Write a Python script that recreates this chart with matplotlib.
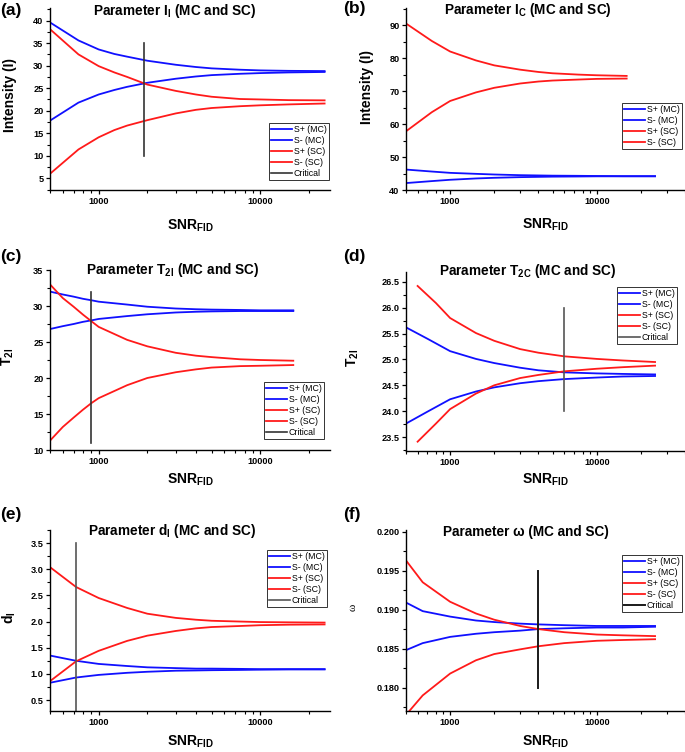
import matplotlib
matplotlib.use('Agg')
import matplotlib.pyplot as plt
from matplotlib.ticker import FixedLocator, LogLocator, NullFormatter, MultipleLocator, FormatStrFormatter

plt.rcParams['font.family'] = ['Liberation Sans', 'DejaVu Sans']
plt.rcParams['font.weight'] = 'bold'

# ---- datos ----
# (a) parametro I_I
snr_a = [500, 750, 1000, 1250, 1500, 2000, 3000, 4000, 5000, 7500, 10000, 15000, 25000]
a_mc_mas = [39.6, 35.6, 33.6, 32.6, 32.0, 31.1, 30.2, 29.7, 29.4, 29.1, 28.95, 28.85, 28.8]
a_mc_menos = [17.8, 21.8, 23.6, 24.6, 25.3, 26.2, 27.1, 27.6, 27.9, 28.2, 28.35, 28.5, 28.6]
a_sc_mas = [38.1, 32.5, 29.9, 28.5, 27.5, 25.8, 24.4, 23.6, 23.1, 22.6, 22.5, 22.35, 22.3]
a_sc_menos = [6.0, 11.4, 14.1, 15.7, 16.7, 17.9, 19.4, 20.2, 20.6, 21.0, 21.2, 21.4, 21.6]
a_critico = 1900
a_critico_y = [10, 35]

# (b) parametro I_C
snr_b_mc = [500, 750, 1000, 1500, 2000, 3000, 5000, 7500, 10000, 15000, 25000]
b_mc_mas = [46.2, 45.6, 45.2, 44.9, 44.7, 44.5, 44.35, 44.3, 44.25, 44.2, 44.2]
b_mc_menos = [42.1, 42.7, 43.1, 43.5, 43.7, 43.9, 44.05, 44.1, 44.15, 44.15, 44.15]
snr_b_sc = [500, 750, 1000, 1500, 2000, 3000, 4000, 5000, 7500, 10000, 16000]
b_sc_mas = [90.5, 85.2, 82.0, 79.3, 77.8, 76.5, 75.8, 75.4, 75.0, 74.8, 74.6]
b_sc_menos = [57.8, 63.6, 67.0, 69.6, 71.0, 72.3, 72.9, 73.2, 73.5, 73.7, 73.8]

# (c) parametro T2I
snr_c = [500, 600, 700, 800, 900, 1000, 1500, 2000, 3000, 4000, 5000, 7500, 10000, 16000]
c_mc_mas = [32.0, 31.6, 31.3, 31.0, 30.8, 30.6, 30.2, 29.9, 29.65, 29.55, 29.5, 29.45, 29.4, 29.4]
c_mc_menos = [26.8, 27.2, 27.5, 27.8, 28.0, 28.2, 28.6, 28.85, 29.1, 29.2, 29.25, 29.3, 29.3, 29.3]
c_sc_mas = [33.0, 31.1, 29.9, 28.8, 27.9, 27.1, 25.3, 24.4, 23.5, 23.1, 22.9, 22.6, 22.5, 22.4]
c_sc_menos = [11.3, 13.2, 14.5, 15.6, 16.5, 17.2, 19.0, 20.0, 20.8, 21.2, 21.45, 21.65, 21.7, 21.8]
c_critico = 900
c_critico_y = [11, 32]

# (d) parametro T2C
snr_d_mc = [500, 700, 1000, 1500, 2000, 3000, 4000, 6000, 10000, 15000, 25000]
d_mc_mas = [25.62, 25.40, 25.16, 25.01, 24.93, 24.84, 24.79, 24.75, 24.73, 24.72, 24.71]
d_mc_menos = [23.76, 23.99, 24.23, 24.38, 24.46, 24.54, 24.58, 24.62, 24.65, 24.67, 24.68]
snr_d_sc = [600, 800, 1000, 1500, 2000, 3000, 4000, 6000, 10000, 15000, 25000]
d_sc_mas = [26.42, 26.09, 25.80, 25.51, 25.36, 25.20, 25.13, 25.06, 25.01, 24.98, 24.95]
d_sc_menos = [23.41, 23.76, 24.04, 24.34, 24.50, 24.64, 24.70, 24.77, 24.82, 24.85, 24.88]
d_critico = 6000
d_critico_y = [24, 26]

# (e) parametro dI
snr_e = [500, 725, 1000, 1500, 2000, 3000, 4000, 5000, 7500, 10000, 15000, 25000]
e_mc_mas = [1.35, 1.25, 1.19, 1.15, 1.125, 1.11, 1.10, 1.10, 1.095, 1.09, 1.09, 1.09]
e_mc_menos = [0.83, 0.93, 0.98, 1.02, 1.04, 1.06, 1.065, 1.07, 1.075, 1.08, 1.085, 1.085]
e_sc_mas = [3.04, 2.66, 2.45, 2.26, 2.15, 2.07, 2.035, 2.015, 2.0, 1.99, 1.985, 1.98]
e_sc_menos = [0.86, 1.24, 1.44, 1.63, 1.73, 1.82, 1.87, 1.895, 1.915, 1.93, 1.94, 1.945]
e_critico = 725
e_critico_y = [0.29, 3.5]

# (f) parametro omega
snr_f = [500, 650, 1000, 1500, 2000, 3000, 4000, 6000, 10000, 15000, 25000]
f_mc_mas = [0.1909, 0.1898, 0.1891, 0.1886, 0.1884, 0.1882, 0.1881, 0.1880, 0.1879, 0.1879, 0.1879]
f_mc_menos = [0.1848, 0.1857, 0.1865, 0.1869, 0.1871, 0.1873, 0.1875, 0.1876, 0.1877, 0.1877, 0.1878]
f_sc_mas = [0.1963, 0.1935, 0.1910, 0.1895, 0.1887, 0.1879, 0.1875, 0.1871, 0.1868, 0.1867, 0.1866]
f_sc_menos = [0.1765, 0.1790, 0.1818, 0.1835, 0.1843, 0.1849, 0.1853, 0.1857, 0.1860, 0.1861, 0.1862]
f_critico = 4000
f_critico_y = [0.180, 0.195]

etiquetas = ['S+ (MC)', 'S- (MC)', 'S+ (SC)', 'S- (SC)', 'Critical']

W, H = 685, 752
AZUL = '#1010ff'
ROJO = '#ff1a1a'


def rect(x0, y0, x1, y1):
    # paso de pixeles a coordenadas de figura
    return [x0 / W, 1 - y1 / H, (x1 - x0) / W, (y1 - y0) / H]


def ejes(fig, r, xlim, ylim, mayor, menor, fmt):
    ax = fig.add_axes(rect(*r))
    ax.set_xscale('log')
    ax.set_xlim(*xlim)
    ax.set_ylim(*ylim)
    ax.xaxis.set_major_locator(FixedLocator([1000, 10000]))
    ax.xaxis.set_major_formatter(FormatStrFormatter('%d'))
    ax.xaxis.set_minor_locator(LogLocator(subs=range(2, 10)))
    ax.xaxis.set_minor_formatter(NullFormatter())
    ax.yaxis.set_major_locator(MultipleLocator(mayor))
    ax.yaxis.set_minor_locator(MultipleLocator(menor))
    ax.yaxis.set_major_formatter(FormatStrFormatter(fmt))
    for lado in ['top', 'right']:
        ax.spines[lado].set_visible(False)
    for lado in ['left', 'bottom']:
        ax.spines[lado].set_linewidth(1.0)
    ax.tick_params(which='major', direction='out', length=3.2, width=0.9, labelsize=6.6, pad=1.5)
    ax.tick_params(which='minor', direction='out', length=2.0, width=0.8)
    for t in ax.get_xticklabels() + ax.get_yticklabels():
        t.set_fontweight('bold')
    return ax


def curvas(ax, x_mc, mc1, mc2, x_sc, sc1, sc2):
    ax.plot(x_mc, mc1, color=AZUL, lw=1.3, label=etiquetas[0])
    ax.plot(x_mc, mc2, color=AZUL, lw=1.3, label=etiquetas[1])
    ax.plot(x_sc, sc1, color=ROJO, lw=1.3, label=etiquetas[2])
    ax.plot(x_sc, sc2, color=ROJO, lw=1.3, label=etiquetas[3])


def leyenda(fig, ax, x, y):
    leg = ax.legend(loc='upper left', bbox_to_anchor=(x / W, 1 - y / H), bbox_transform=fig.transFigure,
                    prop={'size': 6.3, 'weight': 'normal'}, frameon=True, fancybox=False,
                    handlelength=2.4, handletextpad=0.2, labelspacing=0.22, borderpad=0.25,
                    borderaxespad=0)
    leg.get_frame().set_edgecolor('black')
    leg.get_frame().set_linewidth(0.7)


def textos(fig, letra, pl, titulo, pt, ylab, py, xlab_pos, ylab_kw=None):
    fig.text(pl[0] / W, 1 - pl[1] / H, letra, fontsize=12.5, fontweight='bold', va='center', ha='left')
    fig.text(pt[0] / W, 1 - pt[1] / H, titulo, fontsize=9.8, fontweight='bold', va='center', ha='center')
    kw = dict(fontsize=10, fontweight='bold')
    if ylab_kw:
        kw.update(ylab_kw)
    fig.text(py[0] / W, 1 - py[1] / H, ylab, rotation=90, va='center', ha='center', **kw)
    fig.text(xlab_pos[0] / W, 1 - xlab_pos[1] / H, r'SNR$_\mathregular{FID}$', fontsize=10,
             fontweight='bold', va='center', ha='center')


def main():
    fig = plt.figure(figsize=(W / 100, H / 100), dpi=100)

    # (a)
    ax = ejes(fig, (50, 8, 330, 190), (500, 27000), (2.4, 42.8), 5, 2.5, '%d')
    curvas(ax, snr_a, a_mc_mas, a_mc_menos, snr_a, a_sc_mas, a_sc_menos)
    ax.plot([a_critico, a_critico], a_critico_y, color='#333333', lw=1.2, label=etiquetas[4])
    leyenda(fig, ax, 269, 123)
    textos(fig, '(a)', (0, 10), r'Parameter I$_\mathregular{I}$ (MC and SC)', (175, 11),
           'Intensity (I)', (10, 95), (190, 226))

    # (b)
    ax = ejes(fig, (406, 8, 685, 190), (500, 40000), (40, 95.2), 10, 5, '%d')
    curvas(ax, snr_b_mc, b_mc_mas, b_mc_menos, snr_b_sc, b_sc_mas, b_sc_menos)
    leyenda(fig, ax, 622, 103)
    textos(fig, '(b)', (343, 8), r'Parameter I$_\mathregular{C}$ (MC and SC)', (528, 10),
           'Intensity (I)', (367, 87), (545, 225))

    # (c)
    ax = ejes(fig, (50, 270, 330, 450), (500, 27000), (10, 35), 5, 2.5, '%d')
    curvas(ax, snr_c, c_mc_mas, c_mc_menos, snr_c, c_sc_mas, c_sc_menos)
    ax.plot([c_critico, c_critico], c_critico_y, color='#333333', lw=1.2, label=etiquetas[4])
    leyenda(fig, ax, 264, 382)
    textos(fig, '(c)', (0, 257), r'Parameter T$_\mathregular{2I}$ (MC and SC)', (173, 270),
           r'T$_\mathregular{2I}$', (8, 357), (190, 480))

    # (d)
    ax = ejes(fig, (406, 272, 685, 451), (500, 40000), (23.23, 26.69), 0.5, 0.25, '%.1f')
    curvas(ax, snr_d_mc, d_mc_mas, d_mc_menos, snr_d_sc, d_sc_mas, d_sc_menos)
    ax.plot([d_critico, d_critico], d_critico_y, color='#555555', lw=1.2, label=etiquetas[4])
    leyenda(fig, ax, 617, 287)
    textos(fig, '(d)', (343, 257), r'Parameter T$_\mathregular{2C}$ (MC and SC)', (528, 271),
           r'T$_\mathregular{2I}$', (353, 358), (545, 480))

    # (e)
    ax = ejes(fig, (50, 530, 330, 711), (500, 27000), (0.29, 3.75), 0.5, 0.25, '%.1f')
    curvas(ax, snr_e, e_mc_mas, e_mc_menos, snr_e, e_sc_mas, e_sc_menos)
    ax.plot([e_critico, e_critico], e_critico_y, color='#555555', lw=1.2, label=etiquetas[4])
    leyenda(fig, ax, 267, 550)
    textos(fig, '(e)', (0, 515), r'Parameter d$_\mathregular{I}$ (MC and SC)', (172, 531),
           r'd$_\mathregular{I}$', (9, 618), (190, 742))

    # (f)
    ax = ejes(fig, (406, 530, 685, 711), (500, 40000), (0.1770, 0.2002), 0.005, 0.0025, '%.3f')
    curvas(ax, snr_f, f_mc_mas, f_mc_menos, snr_f, f_sc_mas, f_sc_menos)
    ax.plot([f_critico, f_critico], f_critico_y, color='#1a1a1a', lw=1.4, label=etiquetas[4])
    leyenda(fig, ax, 622, 555)
    textos(fig, '(f)', (343, 514), 'Parameter ω (MC and SC)', (526, 532),
           'ω', (353, 607), (545, 742), ylab_kw={'fontweight': 'normal', 'fontsize': 8,
                                                  'family': ['Liberation Serif', 'DejaVu Serif']})

    fig.savefig('out.png', dpi=100)


main()
